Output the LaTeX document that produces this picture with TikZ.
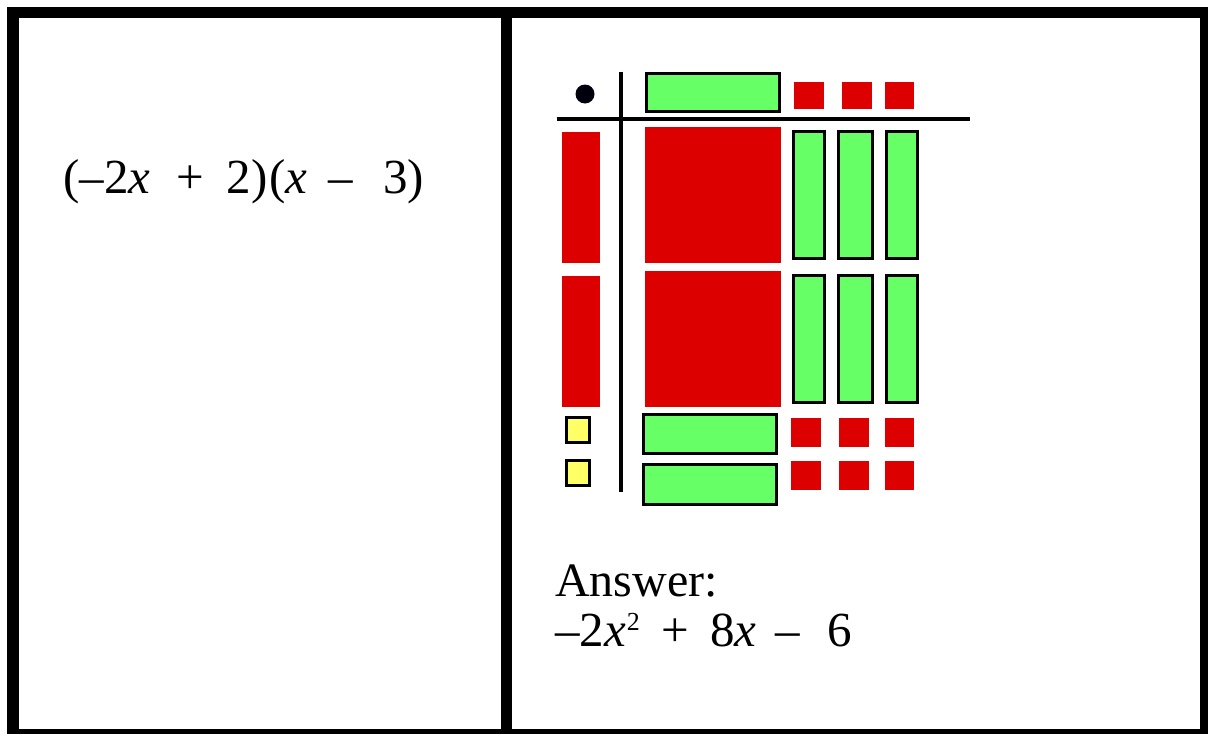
\documentclass[tikz,border=0pt]{standalone}
\usepackage{fontspec}
\setmainfont{Liberation Serif}
\definecolor{tred}{HTML}{DD0000}
\definecolor{tgreen}{HTML}{66FF66}
\definecolor{tyellow}{HTML}{FFFF66}
\begin{document}
\begin{tikzpicture}[x=1pt,y=-1pt,
  redtile/.style={fill=tred},
  greentile/.style={fill=tgreen,draw=black,line width=3pt},
  yellowtile/.style={fill=tyellow,draw=black,line width=3pt},
  axisline/.style={draw=black,line width=4.8pt},
  txt/.style={anchor=base west,inner sep=0pt,font=\fontsize{49}{52}\selectfont}]
\useasboundingbox (0,0) rectangle (1208,734);
% frame
\fill[black] (7,7) rectangle (1208,734);
\fill[white] (19,18) rectangle (501,728.5);
\fill[white] (512,18) rectangle (1200,728.5);
% left panel expression
\node[txt] (expr) at (63,193.3) {(–2\textit{x}\hspace{26.5pt}+\hspace{22.4pt}2)\hspace{2pt}(\textit{x}\hspace{20.6pt}–\hspace{30.5pt}3)};
% axes
\coordinate (vtop) at (621,71.7);
\coordinate (vbot) at (621,492);
\coordinate (hl) at (556.7,119);
\coordinate (hr) at (970,119);
\draw[axisline] (vtop) -- (vbot);
\draw[axisline] (hl) -- (hr);
% dot
\fill[black!95!blue] (585,94) circle (9.5);
% top factor
\draw[greentile] (646.8,73.2) rectangle (779.2,111.8);
\fill[redtile] (794,82) rectangle (823.7,108.7);
\fill[redtile] (842,82) rectangle (871.7,108.7);
\fill[redtile] (885,82) rectangle (914.3,108.7);
% left factor
\fill[redtile] (562,132.3) rectangle (599.7,263);
\fill[redtile] (562,276.3) rectangle (599.7,407);
\draw[yellowtile] (566.8,417.2) rectangle (589.8,442.5);
\draw[yellowtile] (566.8,460.2) rectangle (589.8,485.5);
% product: x^2 tiles
\fill[redtile] (645,127.3) rectangle (781,263);
\fill[redtile] (645,271.3) rectangle (781,407);
% product: vertical x tiles
\draw[greentile] (793.2,131.8) rectangle (824.5,258.8);
\draw[greentile] (838.5,131.8) rectangle (872.5,258.8);
\draw[greentile] (886.8,131.8) rectangle (917.8,258.8);
\draw[greentile] (793.2,275.8) rectangle (824.5,402.8);
\draw[greentile] (838.5,275.8) rectangle (872.5,402.8);
\draw[greentile] (886.8,275.8) rectangle (917.8,402.8);
% product: horizontal x tiles
\draw[greentile] (643.8,414.5) rectangle (776.8,453.2);
\draw[greentile] (643.8,464.8) rectangle (776.8,504.2);
% product: unit tiles
\fill[redtile] (791.3,418) rectangle (821,447);
\fill[redtile] (839.3,418) rectangle (869,447);
\fill[redtile] (885,418) rectangle (914.3,447);
\fill[redtile] (791.3,460.7) rectangle (821,490);
\fill[redtile] (839.3,460.7) rectangle (869,490);
\fill[redtile] (885,460.7) rectangle (914.3,490);
% answer
\node[txt,font=\fontsize{48}{52}\selectfont] (ans1) at (555,596.7) {Answer:};
\node[txt] (ans2) at (555,646.7) {–2\textit{x}\hspace{1pt}\raisebox{16pt}{\fontsize{26}{26}\selectfont 2}\hspace{22pt}+\hspace{20.5pt}8\textit{x}\hspace{19pt}–\hspace{27.3pt}6};
\end{tikzpicture}
\end{document}
